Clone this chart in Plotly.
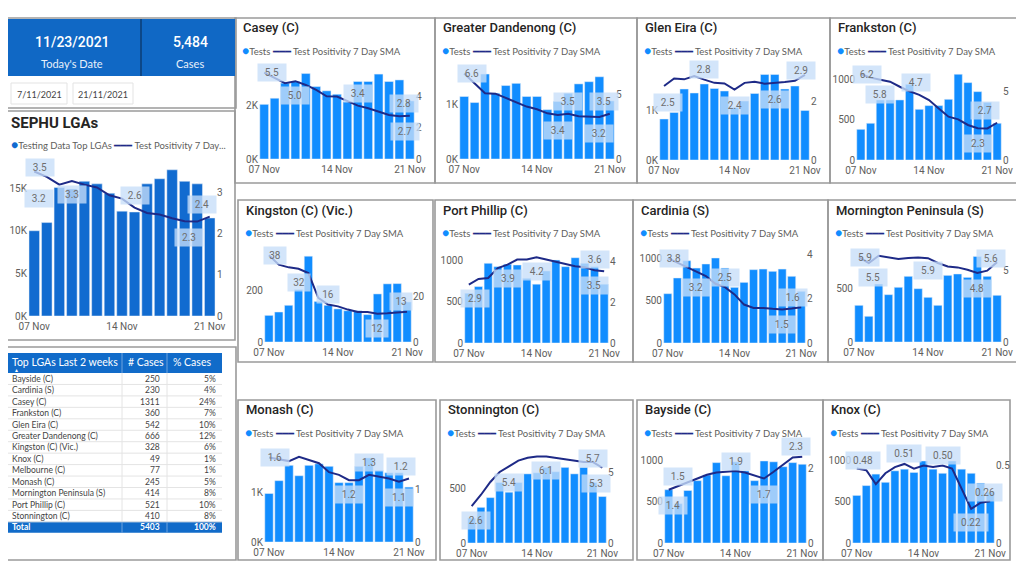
import plotly.graph_objects as go
import pandas as pd

# ---------------- data ----------------
dates = pd.date_range("2021-11-07", periods=15, freq="D")
date_tick_vals = ["2021-11-07", "2021-11-14", "2021-11-21"]
date_tick_text = ["07 Nov", "14 Nov", "21 Nov"]

kpi_date = "11/23/2021"
kpi_date_label = "Today's Date"
kpi_cases = "5,484"
kpi_cases_label = "Cases"
slicer_from = "7/11/2021"
slicer_to = "21/11/2021"

sephu_tests = [10000, 10960, 15070, 14900, 15800, 15500, 14400, 12300, 12200, 15500, 16100, 17150, 15800, 15500, 11500]
sephu_sma = [3.52, 3.39, 3.2, 3.29, 3.2, 3.13, 2.94, 2.86, 2.64, 2.51, 2.47, 2.38, 2.31, 2.3, 2.42]

casey_tests = [2060, 2290, 2860, 2920, 3220, 2730, 2570, 2440, 2160, 2920, 2920, 3200, 2920, 2980, 2190]
casey_sma = [5.5, 5.17, 4.83, 4.96, 4.72, 4.4, 4.0, 3.98, 3.7, 3.4, 3.23, 3.0, 2.8, 2.72, 2.76]

dandenong_tests = [1140, 1030, 1550, 1200, 1340, 1380, 1140, 1140, 900, 1050, 1200, 1370, 1410, 1500, 1060]
dandenong_sma = [6.6, 5.85, 5.08, 5.05, 4.7, 4.4, 4.05, 3.84, 3.53, 3.4, 3.5, 3.3, 3.27, 3.24, 3.5]

gleneira_tests = [820, 950, 1420, 1340, 1520, 1430, 1380, 1050, 1180, 1330, 1710, 1710, 1420, 1480, 990]
gleneira_sma = [2.54, 2.8, 2.77, 2.88, 2.76, 2.65, 2.63, 2.42, 2.65, 2.69, 2.62, 2.64, 2.68, 2.72, 2.92]

frankston_tests = [380, 455, 744, 744, 744, 938, 628, 674, 674, 752, 1062, 959, 847, 715, 455]
frankston_sma = [6.22, 5.97, 5.82, 5.68, 5.31, 4.98, 4.72, 4.35, 3.74, 3.14, 2.95, 2.54, 2.3, 2.29, 2.7]

kingston_tests = [103, 116, 142, 203, 332, 157, 142, 128, 121, 121, 106, 186, 225, 226, 155]
kingston_sma = [38, 33.9, 32.7, 32.1, 30.2, 19.3, 16.4, 15.6, 14.2, 13.1, 13.1, 12.4, 12.6, 13.0, 13.3]

portphillip_tests = [607, 688, 972, 931, 960, 951, 789, 717, 879, 1012, 931, 1040, 972, 931, 717]
portphillip_sma = [2.88, 3.16, 3.21, 3.7, 3.87, 4.12, 4.12, 4.23, 4.12, 4.0, 3.9, 3.79, 3.74, 3.59, 3.54]

cardinia_tests = [585, 771, 976, 889, 937, 1008, 889, 660, 719, 870, 877, 850, 877, 791, 613]
cardinia_sma = [3.84, 3.64, 3.41, 3.24, 3.03, 2.68, 2.53, 2.2, 1.74, 1.59, 1.59, 1.55, 1.52, 1.56, 1.62]

mornington_tests = [344, 241, 544, 444, 513, 616, 500, 419, 344, 625, 638, 606, 803, 616, 438]
mornington_sma = [5.93, 5.54, 6.05, 5.93, 5.82, 5.89, 5.93, 5.88, 5.54, 5.3, 5.23, 5.07, 4.84, 5.0, 5.6]

monash_tests = [980, 1240, 1550, 1340, 1550, 1580, 1530, 1200, 1200, 1530, 1700, 1450, 1400, 1400, 1110]
monash_sma = [1.6, 1.56, 1.53, 1.61, 1.55, 1.49, 1.32, 1.27, 1.17, 1.17, 1.27, 1.23, 1.2, 1.14, 1.2]

stonnington_tests = [230, 330, 420, 560, 470, 560, 640, 650, 700, 660, 700, 640, 700, 560, 430]
stonnington_sma = [2.6, 3.4, 4.3, 5.0, 5.4, 5.8, 6.0, 6.1, 6.1, 6.0, 5.9, 5.8, 5.7, 5.7, 5.3]

bayside_tests = [650, 480, 640, 760, 830, 980, 820, 990, 880, 760, 1000, 990, 930, 980, 960]
bayside_sma = [1.42, 1.52, 1.6, 1.72, 1.82, 1.88, 1.9, 1.92, 1.88, 1.8, 1.72, 1.9, 2.1, 2.28, 2.3]

knox_tests = [580, 700, 840, 740, 880, 900, 860, 1000, 900, 850, 1000, 900, 850, 730, 620]
knox_sma = [0.48, 0.47, 0.38, 0.45, 0.49, 0.51, 0.48, 0.5, 0.49, 0.5, 0.48, 0.35, 0.22, 0.26, 0.27]

table_headers = ["Top LGAs Last 2 weeks", "# Cases", "% Cases"]
lga_names = ["Bayside (C)", "Cardinia (S)", "Casey (C)", "Frankston (C)", "Glen Eira (C)",
             "Greater Dandenong (C)", "Kingston (C) (Vic.)", "Knox (C)", "Melbourne (C)",
             "Monash (C)", "Mornington Peninsula (S)", "Port Phillip (C)", "Stonnington (C)"]
lga_cases = [250, 230, 1311, 360, 542, 666, 328, 49, 77, 245, 414, 521, 410]
lga_pct = ["5%", "4%", "24%", "7%", "10%", "12%", "6%", "1%", "1%", "5%", "8%", "10%", "8%"]
total_label = "Total"
total_pct = "100%"

# ---------------- styling ----------------
# the page body adds an 8px margin, so the figure is drawn 8px in from the window corner
OFF = 8
W, H = 1024 - OFF, 576 - OFF
BAR = "#118DFF"
BAR_DARK = "#116BD0"
LINE = "#1E2A87"
KPI_BLUE = "#1068C5"
HDR_BLUE = "#116BC9"
BORDER = "#9A9A9A"
TXT = "#605E5C"
TITLE = "#252423"
LBL_BG = "rgba(198,222,248,0.78)"
FONT_AX = "Roboto"
FONT_UI = "Lato"


def X(px):
    return (px - OFF) / W


def Y(py):
    return 1 - (py - OFF) / H


def ptext(x, y, text, size, color, family=FONT_UI, xanchor="center", weight=None):
    f = dict(family=family, size=size, color=color)
    if weight:
        f["weight"] = weight
    return dict(x=X(x), y=Y(y), xref="paper", yref="paper", xanchor=xanchor, yanchor="middle",
                showarrow=False, text=text, font=f)


L2 = "Test Positivity 7 Day SMA"
charts = [
    dict(title="SEPHU LGAs", tests=sephu_tests, sma=sephu_sma, box=(0, 111, 235, 340), plot=(28, 216, 160, 316),
         lmax=18300, lt=[0, 5000, 10000, 15000], ltt=["0K", "5K", "10K", "15K"], rmax=3.8, rt=[0, 1, 2, 3],
         labels=[(0, 4, 6), (2, -14, -20), (3, -14, 0), (8, 12, 0), (14, 12, -8), (12, -16, 4)], fmt="{:.1f}",
         color=BAR_DARK, leg1="Testing Data Top LGAs", leg2="Test Positivity 7 Day...", big=True,
         tx=9, lx=9),
    dict(title="Casey (C)", tests=casey_tests, sma=casey_sma, box=(235, 18, 435, 183), plot=(259, 415, 68, 159),
         lmax=3430, lt=[0, 2000], ltt=["0K", "2K"], rmax=5.8, rt=[0, 2, 4],
         labels=[(0, 0, 8), (3, -14, 0), (9, 12, 0), (14, 12, -6), (13, -15, 6)], fmt="{:.1f}"),
    dict(title="Greater Dandenong (C)", tests=dandenong_tests, sma=dandenong_sma, box=(435, 18, 637, 183), plot=(459, 615, 68, 159),
         lmax=1660, lt=[0, 1000], ltt=["0K", "1K"], rmax=7.03, rt=[0, 5],
         labels=[(0, 0, 8), (10, 12, 0), (9, -16, 0), (13, -16, 0), (14, 12, -6)], fmt="{:.1f}"),
    dict(title="Glen Eira (C)", tests=gleneira_tests, sma=gleneira_sma, box=(637, 18, 830, 183), plot=(659, 810, 68, 160),
         lmax=1840, lt=[0, 1000], ltt=["0K", "1K"], rmax=3.16, rt=[0, 2],
         labels=[(0, -16, 4), (4, 10, 0), (7, -16, 0), (11, -16, 0), (14, 4, -4)], fmt="{:.1f}"),
    dict(title="Frankston (C)", tests=frankston_tests, sma=frankston_sma, box=(830, 18, 1022, 183), plot=(856, 1002, 68, 160),
         lmax=1140, lt=[0, 500, 1000], ltt=["0", "500", "1000"], rmax=6.67, rt=[0, 5],
         labels=[(0, 0, 6), (2, -15, 0), (6, 12, -3), (14, 12, -12), (12, -15, 0)], fmt="{:.1f}"),
    dict(title="Kingston (C) (Vic.)", tests=kingston_tests, sma=kingston_sma, box=(238, 200, 433, 362), plot=(264, 412, 250, 342),
         lmax=356, lt=[0, 200], ltt=["0", "200"], rmax=40.3, rt=[0, 20],
         labels=[(0, 0, 6), (3, -14, 0), (6, 10, 0), (11, -15, 0), (14, 10, -6)], fmt="{:.0f}"),
    dict(title="Port Phillip (C)", tests=portphillip_tests, sma=portphillip_sma, box=(435, 200, 633, 362), plot=(464, 609, 250, 343),
         lmax=1134, lt=[0, 500, 1000], ltt=["0", "500", "1000"], rmax=4.59, rt=[0, 2, 4],
         labels=[(0, -14, 6), (4, -14, 0), (7, -14, 0), (13, 11, 0), (14, -14, -10)], fmt="{:.1f}"),
    dict(title="Cardinia (S)", tests=cardinia_tests, sma=cardinia_sma, box=(633, 200, 828, 362), plot=(663, 806, 250, 343),
         lmax=1103, lt=[0, 500, 1000], ltt=["0", "500", "1000"], rmax=4.21, rt=[0, 2, 4],
         labels=[(0, 0, 6), (3, -16, 0), (6, 10, 0), (14, 10, -8), (12, -15, 0)], fmt="{:.1f}"),
    dict(title="Mornington Peninsula (S)", tests=mornington_tests, sma=mornington_sma, box=(828, 200, 1022, 362), plot=(854, 1002, 250, 342),
         lmax=863, lt=[0, 500], ltt=["0", "500"], rmax=6.45, rt=[0, 5],
         labels=[(0, 0, 6), (1, -15, 4), (7, -12, 0), (14, 4, -6), (12, -16, 0)], fmt="{:.1f}"),
    dict(title="Monash (C)", tests=monash_tests, sma=monash_sma, box=(238, 400, 436, 560), plot=(264, 414, 450, 542),
         lmax=1860, lt=[0, 1000], ltt=["0K", "1K"], rmax=1.74, rt=[0, 1],
         labels=[(0, 0, 6), (8, -14, 0), (10, 12, 0), (14, 12, -8), (13, -16, 0)], fmt="{:.1f}"),
    dict(title="Stonnington (C)", tests=stonnington_tests, sma=stonnington_sma, box=(440, 400, 633, 560), plot=(467, 607, 450, 543),
         lmax=861, lt=[0, 500], ltt=["0", "500"], rmax=6.55, rt=[0, 5],
         labels=[(0, -14, 4), (4, -16, 0), (8, -14, 0), (13, 4, 0), (14, -16, -6)], fmt="{:.1f}"),
    dict(title="Bayside (C)", tests=bayside_tests, sma=bayside_sma, box=(637, 400, 823, 560), plot=(664, 807, 450, 543),
         lmax=1134, lt=[0, 500, 1000], ltt=["0", "500", "1000"], rmax=2.48, rt=[0, 2],
         labels=[(0, -16, 4), (1, 10, 0), (7, 10, 0), (10, -16, 0), (14, 10, -6)], fmt="{:.1f}"),
    dict(title="Knox (C)", tests=knox_tests, sma=knox_sma, box=(823, 400, 1010, 560), plot=(852, 995, 450, 543),
         lmax=1134, lt=[0, 500, 1000], ltt=["0", "500", "1000"], rmax=0.6, rt=[0.0, 0.5],
         labels=[(0, 8, 6), (5, 10, 0), (9, 10, 0), (12, -14, 0), (13, 10, 4)], fmt="{:.2f}"),
]

fig = go.Figure()
layout = {}
annotations = []
shapes = []

half_day = pd.Timedelta(hours=12)
xrange = [dates[0] - half_day, dates[-1] + half_day]
tickfont = dict(family=FONT_AX, size=10, color=TXT)

for k, c in enumerate(charts):
    n = k + 1
    yl = 2 * n - 1
    yr = 2 * n
    xname = "x" if n == 1 else f"x{n}"
    ylname = "y" if yl == 1 else f"y{yl}"
    yrname = f"y{yr}"
    x0, x1, ptop, pbot = c["plot"]
    layout["xaxis" if n == 1 else f"xaxis{n}"] = dict(
        domain=[X(x0), X(x1)], anchor=ylname, type="date", range=xrange, automargin=False,
        tickvals=date_tick_vals, ticktext=date_tick_text, showgrid=False, zeroline=False,
        showline=False, ticks="", ticklabelstandoff=3, tickfont=tickfont, fixedrange=True)
    layout["yaxis" if yl == 1 else f"yaxis{yl}"] = dict(
        domain=[Y(pbot), Y(ptop)], anchor=xname, range=[0, c["lmax"]], tickvals=c["lt"], ticktext=c["ltt"],
        showgrid=False, zeroline=False, showline=False, ticks="", automargin=False, tickfont=tickfont)
    layout[f"yaxis{yr}"] = dict(
        domain=[Y(pbot), Y(ptop)], anchor=xname, overlaying=ylname, side="right", range=[0, c["rmax"]],
        tickvals=c["rt"], showgrid=False, zeroline=False, showline=False, ticks="", automargin=False,
        tickfont=tickfont)
    col = c.get("color", BAR)
    fig.add_trace(go.Bar(x=dates, y=c["tests"], marker_color=col, xaxis=xname, yaxis=ylname,
                         showlegend=False, hoverinfo="skip"))
    fig.add_trace(go.Scatter(x=dates, y=c["sma"], mode="lines", line=dict(color=LINE, width=2),
                             xaxis=xname, yaxis=yrname, showlegend=False, hoverinfo="skip"))
    for idx, dy, dx in c["labels"]:
        txt = c["fmt"].format(c["sma"][idx])
        annotations.append(dict(x=dates[idx], y=c["sma"][idx], xref=xname, yref=yrname,
                                xanchor="center", yanchor="middle",
                                text=txt, showarrow=False, width=6 * len(txt) + 6, height=13,
                                yshift=dy, xshift=dx, bgcolor=LBL_BG, borderpad=2,
                                font=dict(family=FONT_AX, size=10, color="#6E6E6E")))
    bx0, by0, bx1, by1 = c["box"]
    shapes.append(dict(type="rect", xref="paper", yref="paper", x0=X(bx0), x1=X(bx1), y0=Y(by1), y1=Y(by0),
                       line=dict(color=BORDER, width=1.6), layer="below"))
    big = c.get("big", False)
    annotations.append(ptext(c.get("tx", bx0 + 6), by0 + (12 if big else 10), c["title"],
                             15 if big else 13, TITLE, family=FONT_AX, xanchor="left",
                             weight=700 if big else 500))
    leg1 = c.get("leg1", "Tests")
    leg2 = c.get("leg2", L2)
    annotations.append(ptext(
        c.get("lx", bx0 + 5), by0 + (34 if big else 33),
        (f'<span style="color:{col if big else BAR};font-size:12px">●</span>{leg1} '
         f'<span style="color:{LINE}">━━━</span> {leg2}'),
        9.5, TXT, xanchor="left"))

# ---- KPI cards ----
shapes.append(dict(type="rect", xref="paper", yref="paper", x0=X(0), x1=X(235), y0=Y(76), y1=Y(19),
                   fillcolor=KPI_BLUE, line=dict(width=0), layer="below"))
shapes.append(dict(type="line", xref="paper", yref="paper", x0=X(141), x1=X(141), y0=Y(76), y1=Y(19),
                   line=dict(color="#0B3D73", width=1.5)))
shapes.append(dict(type="rect", xref="paper", yref="paper", x0=X(0), x1=X(236), y0=Y(108), y1=Y(18),
                   line=dict(color=BORDER, width=1.6), layer="below"))
for cx, big_t, small_t in [(72, kpi_date, kpi_date_label), (190, kpi_cases, kpi_cases_label)]:
    annotations.append(ptext(cx, 42, big_t, 14, "white", family=FONT_AX, weight=500))
    annotations.append(ptext(cx, 63, small_t, 11, "#E8F0FA"))
for sx0, sx1, st in [(11, 67, slicer_from), (73, 133, slicer_to)]:
    shapes.append(dict(type="rect", xref="paper", yref="paper", x0=X(sx0), x1=X(sx1), y0=Y(104), y1=Y(83),
                       line=dict(color="#E3E3E3", width=1), fillcolor="white", layer="below"))
    annotations.append(ptext((sx0 + sx1) / 2, 94, st, 9, "#444444"))

# ---- table (drawn with shapes and text) ----
shapes.append(dict(type="rect", xref="paper", yref="paper", x0=X(0), x1=X(236), y0=Y(560), y1=Y(347),
                   line=dict(color=BORDER, width=1.6), layer="below"))
TX0, TX1 = 8, 222
C1, C2 = 122, 167
HY0, HY1 = 353, 373
ROW_H = 11.45
n_rows = len(lga_names)
TY1 = HY1 + ROW_H * n_rows
TOT_Y1 = TY1 + 11
shapes.append(dict(type="rect", xref="paper", yref="paper", x0=X(TX0), x1=X(TX1), y0=Y(HY1), y1=Y(HY0),
                   fillcolor=HDR_BLUE, line=dict(width=0), layer="below"))
shapes.append(dict(type="rect", xref="paper", yref="paper", x0=X(TX0), x1=X(TX1), y0=Y(TOT_Y1), y1=Y(TY1),
                   fillcolor=HDR_BLUE, line=dict(width=0), layer="below"))
for cx in (C1, C2):
    shapes.append(dict(type="line", xref="paper", yref="paper", x0=X(cx), x1=X(cx), y0=Y(HY1), y1=Y(HY0),
                       line=dict(color="#6FA3DD", width=1)))
    shapes.append(dict(type="line", xref="paper", yref="paper", x0=X(cx), x1=X(cx), y0=Y(TY1), y1=Y(HY1),
                       line=dict(color="#E4E4E4", width=1), layer="below"))
    shapes.append(dict(type="line", xref="paper", yref="paper", x0=X(cx), x1=X(cx), y0=Y(TOT_Y1), y1=Y(TY1),
                       line=dict(color="#6FA3DD", width=1)))
for i in range(n_rows):
    yb = HY1 + ROW_H * (i + 1)
    shapes.append(dict(type="line", xref="paper", yref="paper", x0=X(TX0), x1=X(TX1), y0=Y(yb), y1=Y(yb),
                       line=dict(color="#E4E4E4", width=1), layer="below"))
annotations.append(ptext(TX0 + 2, HY0 + 9, table_headers[0], 10.5, "white", xanchor="left"))
annotations.append(ptext(TX0 + 4, HY1 - 3, "▲", 5, "white", xanchor="left"))
annotations.append(ptext(C1 + 4, HY0 + 9, table_headers[1], 10.5, "white", xanchor="left"))
annotations.append(ptext(C2 + 4, HY0 + 9, table_headers[2], 10.5, "white", xanchor="left"))
for i, (nm, cs, pc) in enumerate(zip(lga_names, lga_cases, lga_pct)):
    yc = HY1 + ROW_H * (i + 0.5)
    annotations.append(ptext(TX0 + 2, yc, nm, 8.5, "#444444", xanchor="left"))
    annotations.append(ptext(C2 - 5, yc, str(cs), 8.5, "#444444", xanchor="right"))
    annotations.append(ptext(TX1 - 4, yc, pc, 8.5, "#444444", xanchor="right"))
yc = (TY1 + TOT_Y1) / 2
annotations.append(ptext(TX0 + 2, yc, f"<b>{total_label}</b>", 8.5, "white", xanchor="left"))
annotations.append(ptext(C2 - 5, yc, f"<b>{sum(lga_cases)}</b>", 8.5, "white", xanchor="right"))
annotations.append(ptext(TX1 - 4, yc, f"<b>{total_pct}</b>", 8.5, "white", xanchor="right"))

fig.update_layout(
    width=W, height=H, margin=dict(l=0, r=0, t=0, b=0, autoexpand=False),
    paper_bgcolor="white", plot_bgcolor="rgba(0,0,0,0)",
    bargap=0.16, showlegend=False,
    annotations=annotations, shapes=shapes, **layout,
)
fig.write_html("out.html")
